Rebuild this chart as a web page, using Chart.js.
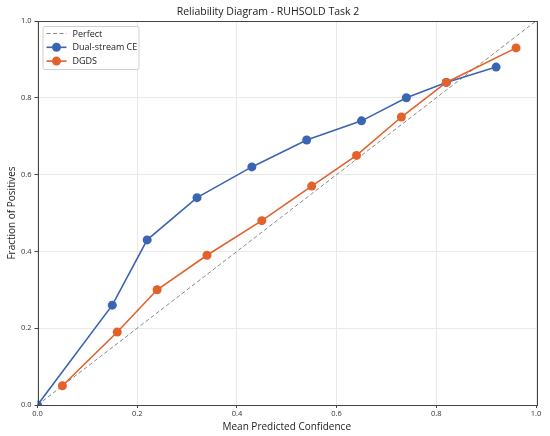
<!DOCTYPE html>
<html>
<head>
<meta charset="utf-8">
<script src="https://cdn.jsdelivr.net/npm/chart.js@4.4.1/dist/chart.umd.min.js"></script>
<style>
html,body{margin:0;padding:0;background:#fff;}
#wrap{width:550px;height:436px;position:relative;}
</style>
</head>
<body>
<div id="wrap"><canvas id="c" width="550" height="436"></canvas></div>
<script>
const titleText = "Reliability Diagram - RUHSOLD Task 2";
const xTitle = "Mean Predicted Confidence";
const yTitle = "Fraction of Positives";
const tickValues = [0.0, 0.2, 0.4, 0.6, 0.8, 1.0];

const perfectLabel = "Perfect";
const perfectX = [0, 1];
const perfectY = [0, 1];

const ceLabel = "Dual-stream CE";
const ceX = [0.00, 0.15, 0.22, 0.32, 0.43, 0.54, 0.65, 0.74, 0.82, 0.92];
const ceY = [0.00, 0.26, 0.43, 0.54, 0.62, 0.69, 0.74, 0.80, 0.84, 0.88];

const dgdsLabel = "DGDS";
const dgdsX = [0.05, 0.16, 0.24, 0.34, 0.45, 0.55, 0.64, 0.73, 0.82, 0.96];
const dgdsY = [0.05, 0.19, 0.30, 0.39, 0.48, 0.57, 0.65, 0.75, 0.84, 0.93];

const pts = (xs, ys) => xs.map((x, i) => ({x: x, y: ys[i]}));

const FONT = "'Open Sans', 'Noto Sans', sans-serif";
const BLUE = "#3a65b3";
const ORANGE = "#e3612a";

const frame = {
  id: 'frame',
  afterDatasetsDraw(chart) {
    const a = chart.chartArea, ctx = chart.ctx;
    ctx.save();
    ctx.strokeStyle = '#444';
    ctx.lineWidth = 1;
    ctx.strokeRect(Math.round(a.left) + 0.5, Math.round(a.top) + 0.5,
                   Math.round(a.right - a.left), Math.round(a.bottom - a.top));
    ctx.restore();
  }
};

const legendBox = {
  id: 'legendBox',
  afterDraw(chart) {
    const a = chart.chartArea, ctx = chart.ctx;
    const ds = chart.data.datasets;
    const x0 = a.left + 5, y0 = a.top + 5;
    const w = 96, h = 43, rowH = 13.8;
    ctx.save();
    ctx.fillStyle = 'rgba(255,255,255,0.85)';
    ctx.strokeStyle = '#d0d0d0';
    ctx.lineWidth = 1;
    ctx.beginPath();
    ctx.roundRect(x0 + 0.5, y0 + 0.5, w, h, 2);
    ctx.fill();
    ctx.stroke();
    ctx.font = "9px " + FONT;
    ctx.textBaseline = 'middle';
    ds.forEach((d, i) => {
      const cy = y0 + 7.5 + i * rowH;
      ctx.strokeStyle = d.borderColor;
      ctx.lineWidth = d.borderWidth;
      ctx.setLineDash(d.borderDash || []);
      ctx.beginPath();
      ctx.moveTo(x0 + 4, cy);
      ctx.lineTo(x0 + 24, cy);
      ctx.stroke();
      ctx.setLineDash([]);
      if (d.pointRadius > 0) {
        ctx.fillStyle = d.pointBackgroundColor;
        ctx.beginPath();
        ctx.arc(x0 + 14, cy, d.pointRadius, 0, Math.PI * 2);
        ctx.fill();
      }
      ctx.fillStyle = '#222';
      ctx.fillText(d.label, x0 + 30, cy + 0.5);
    });
    ctx.restore();
  }
};

new Chart(document.getElementById('c'), {
  type: 'scatter',
  data: {
    datasets: [
      {
        label: perfectLabel,
        data: pts(perfectX, perfectY),
        showLine: true,
        borderColor: '#888888',
        borderWidth: 1,
        borderDash: [4, 2.5],
        pointRadius: 0,
        clip: 0,
        order: 3
      },
      {
        label: ceLabel,
        data: pts(ceX, ceY),
        showLine: true,
        borderColor: BLUE,
        backgroundColor: BLUE,
        pointBackgroundColor: BLUE,
        pointBorderWidth: 0,
        borderWidth: 1.6,
        pointRadius: 4.5,
        pointHoverRadius: 4.5,
        clip: 0,
        order: 2
      },
      {
        label: dgdsLabel,
        data: pts(dgdsX, dgdsY),
        showLine: true,
        borderColor: ORANGE,
        backgroundColor: ORANGE,
        pointBackgroundColor: ORANGE,
        pointBorderWidth: 0,
        borderWidth: 1.6,
        pointRadius: 4.5,
        pointHoverRadius: 4.5,
        clip: 0,
        order: 1
      }
    ]
  },
  options: {
    responsive: false,
    animation: false,
    devicePixelRatio: 1,
    layout: { padding: { left: 0, right: 14, top: 0, bottom: 0 } },
    plugins: {
      legend: { display: false },
      tooltip: { enabled: false },
      title: {
        display: true,
        text: titleText,
        color: '#222',
        font: { family: FONT, size: 10.5, weight: 'normal' },
        padding: { top: 5.5, bottom: 2.9 }
      }
    },
    scales: {
      x: {
        type: 'linear',
        min: 0, max: 1,
        afterFit(s) { s.height = 31; },
        afterBuildTicks(s) { s.ticks = tickValues.map(v => ({value: v})); },
        ticks: {
          color: '#333',
          font: { family: FONT, size: 7.5 },
          padding: 1.5,
          maxRotation: 0,
          callback: v => v.toFixed(1)
        },
        grid: { color: '#e9e9e9', lineWidth: 1, tickLength: 3, tickColor: '#444', drawTicks: true },
        border: { display: false },
        title: {
          display: true,
          text: xTitle,
          color: '#222',
          font: { family: FONT, size: 10 },
          padding: { top: 0, bottom: 3 }
        }
      },
      y: {
        type: 'linear',
        min: 0, max: 1,
        afterFit(s) { s.width = 37.5; },
        afterBuildTicks(s) { s.ticks = tickValues.map(v => ({value: v})); },
        ticks: {
          color: '#333',
          font: { family: FONT, size: 7.5 },
          padding: 3,
          callback: v => v.toFixed(1)
        },
        grid: { color: '#e9e9e9', lineWidth: 1, tickLength: 3, tickColor: '#444', drawTicks: true },
        border: { display: false },
        title: {
          display: true,
          text: yTitle,
          color: '#222',
          font: { family: FONT, size: 10 },
          padding: { top: 6.5, bottom: 0 }
        }
      }
    }
  },
  plugins: [frame, legendBox]
});
</script>
</body>
</html>
